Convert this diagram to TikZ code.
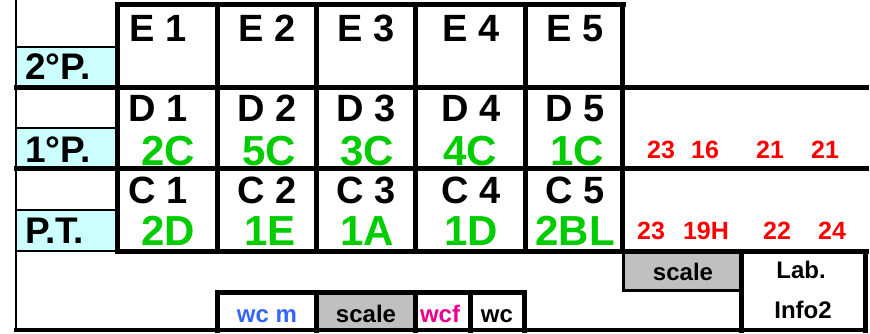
\documentclass[tikz,border=0pt]{standalone}
\usepackage{fontspec}
\setmainfont{Liberation Sans}
\definecolor{celeste}{HTML}{CCFFFF}
\definecolor{verde}{HTML}{00CC00}
\definecolor{grigio}{HTML}{C0C0C0}
\definecolor{blu}{HTML}{3366FF}
\tikzset{
  nome/.style={anchor=base,inner sep=0pt,font=\fontsize{38}{38}\selectfont\bfseries},
  classe/.style={anchor=base,inner sep=0pt,text=verde,font=\fontsize{42}{42}\selectfont\bfseries},
  piano/.style={anchor=base west,inner sep=0pt,font=\fontsize{37}{37}\selectfont\bfseries},
  ora/.style={anchor=base,inner sep=0pt,text=red,font=\fontsize{25}{25}\selectfont\bfseries},
  voce/.style={anchor=base,inner sep=0pt,font=\fontsize{24}{24}\selectfont\bfseries},
  muro/.style={line width=5pt,line cap=rect},
}
\begin{document}
\begin{tikzpicture}[x=1pt,y=-1pt]
\useasboundingbox (0,0) rectangle (870,334);
% fondi
\fill[celeste] (17,48) rectangle (117,87) (17,129) rectangle (117,167) (17,211) rectangle (117,250);
\fill[grigio] (317,294) rectangle (413,328) (624,253) rectangle (739,289);
% linee sottili
\draw[line width=2.5pt] (16,0) -- (16,331)
      (16,47) -- (117,47) (16,128) -- (117,128) (16,210) -- (117,210) (16,251) -- (117,251);
\draw[line width=3pt] (623,251) -- (623,290) -- (741,290);
\draw[line width=3.5pt] (14,330) -- (867,330);
% aule
\draw[muro] (117,5) -- (623,5)
      (117,5) -- (117,251) (217,5) -- (217,251) (316,5) -- (316,251)
      (415,5) -- (415,251) (525,5) -- (525,251) (622,5) -- (622,251)
      (16,88) -- (866,88) (16,168) -- (866,168) (117,251) -- (866,251);
% servizi
\draw[muro] (217,292) -- (524,292)
      (217,292) -- (217,330) (316,292) -- (316,330) (415,292) -- (415,330)
      (470,292) -- (470,330) (524,292) -- (524,330)
      (741,251) -- (741,330) (865,251) -- (865,330);
% piani
\node[piano] (p2) at (25,80) {2°P.};
\node[piano] (p1) at (25,163) {1°P.};
\node[piano] (pt) at (25,243) {P.T.};
% secondo piano
\node[nome] (e1) at (158,42) {E 1};
\node[nome] (e2) at (267,42) {E 2};
\node[nome] (e3) at (366,42) {E 3};
\node[nome] (e4) at (471,42) {E 4};
\node[nome] (e5) at (575,42) {E 5};
% primo piano
\node[nome] (d1) at (158,122) {D 1};
\node[nome] (d2) at (267,122) {D 2};
\node[nome] (d3) at (366,122) {D 3};
\node[nome] (d4) at (471,122) {D 4};
\node[nome] (d5) at (575,122) {D 5};
\node[classe] (k1) at (168,165) {2C};
\node[classe] (k2) at (269,165) {5C};
\node[classe] (k3) at (367,165) {3C};
\node[classe] (k4) at (470,165) {4C};
\node[classe] (k5) at (577,165) {1C};
% piano terra
\node[nome] (c1) at (158,203) {C 1};
\node[nome] (c2) at (267,203) {C 2};
\node[nome] (c3) at (366,203) {C 3};
\node[nome] (c4) at (471,203) {C 4};
\node[nome] (c5) at (575,203) {C 5};
\node[classe] (t1) at (168,245) {2D};
\node[classe] (t2) at (270,245) {1E};
\node[classe] (t3) at (367,245) {1A};
\node[classe] (t4) at (471,245) {1D};
\node[classe] (t5) at (575,245) {2BL};
% numeri
\node[ora] (n1) at (661,158) {23};
\node[ora] (n2) at (705,158) {16};
\node[ora] (n3) at (770,158) {21};
\node[ora] (n4) at (825,158) {21};
\node[ora] (m1) at (651,239) {23};
\node[ora] (m2) at (706,239) {19H};
\node[ora] (m3) at (777,239) {22};
\node[ora] (m4) at (832,239) {24};
% servizi
\node[voce,text=blu] (wcm) at (267,322) {wc m};
\node[voce] (sc1) at (366,322) {scale};
\node[voce,text=magenta] (wcf) at (440,322) {wcf};
\node[voce] (wc) at (497,322) {wc};
\node[voce] (sc2) at (683,280) {scale};
\node[voce] (lab) at (801,278) {Lab.};
\node[voce] (inf) at (803,318) {Info2};
\end{tikzpicture}
\end{document}
